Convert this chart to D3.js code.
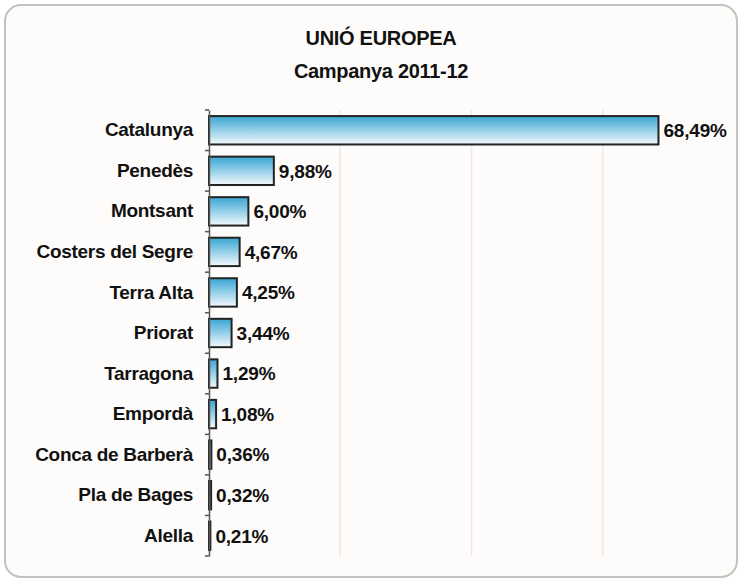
<!DOCTYPE html>
<html>
<head>
<meta charset="utf-8">
<script src="https://cdn.jsdelivr.net/npm/d3@7"></script>
<style>
  html, body { margin: 0; padding: 0; background: #ffffff; }
  svg text { font-family: "Liberation Sans", Arial, sans-serif; fill: #111; }
</style>
</head>
<body>
<svg id="chart" width="742" height="582"></svg>
<script>
'use strict';

// dades
var categories = ['Catalunya', 'Penedès', 'Montsant', 'Costers del Segre', 'Terra Alta',
	'Priorat', 'Tarragona', 'Empordà', 'Conca de Barberà', 'Pla de Bages', 'Alella'];
var shares = [68.49, 9.88, 6.00, 4.67, 4.25, 3.44, 1.29, 1.08, 0.36, 0.32, 0.21];
var gridTicks = [20, 40, 60];
var titleLines = ['UNIÓ EUROPEA', 'Campanya 2011-12'];

var svg = d3.select('#chart');
var W = 742, H = 582;

// fons i marc
svg.append('rect')
	.attr('x', 5).attr('y', 5)
	.attr('width', W - 10).attr('height', H - 10)
	.attr('rx', 16).attr('ry', 16)
	.attr('fill', '#fefcfa')
	.attr('stroke', '#c4c2bf')
	.attr('stroke-width', 2);

var defs = svg.append('defs');
var grad = defs.append('linearGradient')
	.attr('id', 'barGrad')
	.attr('x1', 0).attr('y1', 0).attr('x2', 0).attr('y2', 1);
grad.append('stop').attr('offset', '0%').attr('stop-color', '#3aa6d4');
grad.append('stop').attr('offset', '45%').attr('stop-color', '#8ccbe6');
grad.append('stop').attr('offset', '100%').attr('stop-color', '#f4f9fc');

var x = d3.scaleLinear().domain([0, 80]).range([209, 734]);
var y = d3.scaleBand().domain(categories).range([110, 556]).paddingInner(0.3).paddingOuter(0.15);

// línies de graella
svg.append('g').selectAll('line')
	.data(gridTicks)
	.join('line')
	.attr('x1', function (d) { return x(d); })
	.attr('x2', function (d) { return x(d); })
	.attr('y1', 110).attr('y2', 556)
	.attr('stroke', '#ebe8e5')
	.attr('stroke-width', 1.5);

// títol
svg.append('g').selectAll('text')
	.data(titleLines)
	.join('text')
	.attr('x', 381)
	.attr('y', function (d, i) { return 45 + i * 33; })
	.attr('text-anchor', 'middle')
	.attr('font-size', 20)
	.attr('font-weight', 'bold')
	.attr('letter-spacing', -0.3)
	.text(function (d) { return d; });

// barres
svg.append('g').selectAll('rect')
	.data(shares)
	.join('rect')
	.attr('x', x(0))
	.attr('y', function (d, i) { return y(categories[i]); })
	.attr('width', function (d) { return x(d) - x(0); })
	.attr('height', y.bandwidth())
	.attr('fill', 'url(#barGrad)')
	.attr('stroke', '#222')
	.attr('stroke-width', 2);

// eix vertical amb marques entre categories
var yAxis = d3.axisLeft(y).tickSize(0).tickPadding(16);
var axisG = svg.append('g')
	.attr('transform', 'translate(' + x(0) + ',0)')
	.call(yAxis);
axisG.select('.domain').attr('stroke', '#555').attr('stroke-width', 1.5);
axisG.selectAll('.tick text')
	.attr('font-size', 19)
	.attr('font-weight', 'bold')
	.attr('letter-spacing', -0.3)
	.attr('fill', '#111')
	.attr('font-family', '"Liberation Sans", Arial, sans-serif');

svg.append('g').selectAll('line')
	.data(d3.range(categories.length + 1))
	.join('line')
	.attr('x1', x(0) - 4).attr('x2', x(0))
	.attr('y1', function (i) { return 110 + i * (446 / categories.length); })
	.attr('y2', function (i) { return 110 + i * (446 / categories.length); })
	.attr('stroke', '#555')
	.attr('stroke-width', 1.5);

// etiquetes de valor
var fmt = function (v) { return v.toFixed(2).replace('.', ',') + '%'; };
svg.append('g').selectAll('text')
	.data(shares)
	.join('text')
	.attr('x', function (d) { return x(d) + 5; })
	.attr('y', function (d, i) { return y(categories[i]) + y.bandwidth() / 2; })
	.attr('dy', '0.36em')
	.attr('font-size', 19)
	.attr('font-weight', 'bold')
	.attr('letter-spacing', -0.2)
	.text(fmt);
</script>
</body>
</html>
